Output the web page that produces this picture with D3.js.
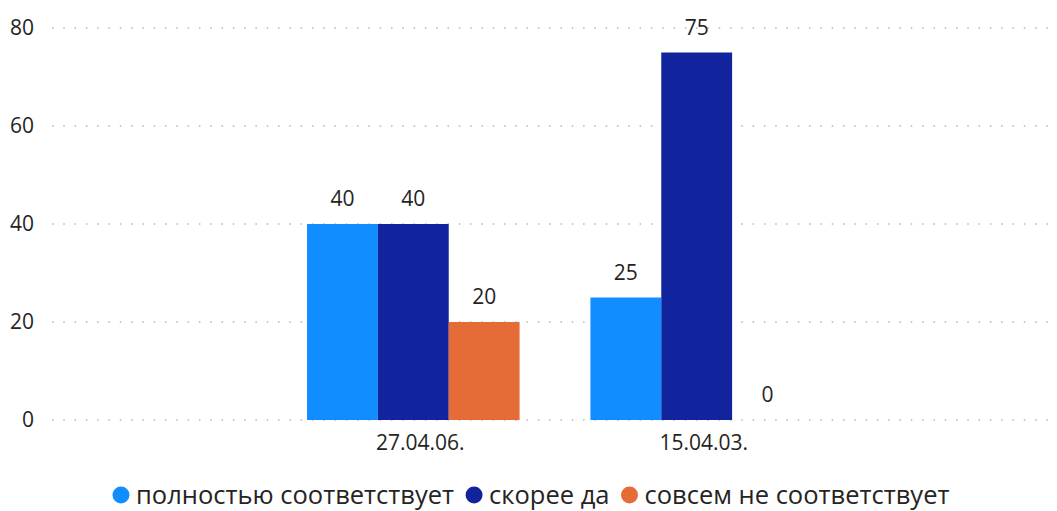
<!DOCTYPE html>
<html><head><meta charset="utf-8">
<script src="https://cdn.jsdelivr.net/npm/d3@7"></script>
<style>body{margin:0;background:#fff;}svg{display:block;font-family:"Open Sans",sans-serif;}</style>
</head><body>
<svg id="c" width="1057" height="511"></svg>
<script>
const categories = ["27.04.06.", "15.04.03."];
const seriesNames = ["полностью соответствует", "скорее да", "совсем не соответствует"];
const seriesColors = ["#118DFF", "#12239E", "#E66C37"];
const valuesFull = [40, 25];
const valuesRather = [40, 75];
const valuesNot = [20, 0];
const yTicks = [0, 20, 40, 60, 80];

const seriesValues = [valuesFull, valuesRather, valuesNot];
const svg = d3.select("#c");
const plotLeft = 52, plotRight = 1058, plotTop = 28, plotBottom = 420;
const FONT = "'Open Sans',sans-serif";

const y = d3.scaleLinear().domain([0, 80]).range([plotBottom, plotTop]);
const x0 = d3.scaleBand().domain(categories).range([plotLeft, plotRight]).paddingInner(0.25).paddingOuter(0.9);
const x1 = d3.scaleBand().domain(seriesNames).range([0, x0.bandwidth()]);

// gridlines
svg.append("g").selectAll("line").data(yTicks).join("line")
  .attr("x1", plotLeft).attr("x2", plotRight)
  .attr("y1", d => y(d)).attr("y2", d => y(d))
  .attr("stroke", "#c8c8c8").attr("stroke-width", 2)
  .attr("stroke-dasharray", "1.5,9.8");

// y axis labels
const yAxis = d3.axisLeft(y).tickValues(yTicks).tickSize(0).tickPadding(0);
const ya = svg.append("g").attr("transform", "translate(34,0)").call(yAxis);
ya.select(".domain").remove();
ya.selectAll("text").attr("font-size", 21).attr("fill", "#252423").attr("font-family", FONT);

// bars
const groups = svg.append("g").selectAll("g").data(categories).join("g")
  .attr("transform", d => `translate(${x0(d)},0)`);
groups.each(function(cat, ci) {
  const g = d3.select(this);
  seriesNames.forEach((s, si) => {
    const v = seriesValues[si][ci];
    g.append("rect")
      .attr("x", x1(s)).attr("width", x1.bandwidth())
      .attr("y", y(v)).attr("height", y(0) - y(v))
      .attr("fill", seriesColors[si]);
    g.append("text")
      .attr("x", x1(s) + x1.bandwidth() / 2)
      .attr("y", y(v) - 18)
      .attr("text-anchor", "middle")
      .attr("font-size", 21).attr("fill", "#252423")
      .text(v);
  });
});

// x axis labels
const xAxis = d3.axisBottom(x0).tickSize(0).tickPadding(0);
const xa = svg.append("g").attr("transform", `translate(7,${plotBottom + 30})`).call(xAxis);
xa.select(".domain").remove();
xa.selectAll("text").attr("font-size", 21).attr("fill", "#252423").attr("font-family", FONT).attr("dy", 0);

// legend
const legend = svg.append("g").attr("transform", "translate(0,495)");
let lx = 121;
seriesNames.forEach((s, i) => {
  legend.append("circle").attr("cx", lx).attr("cy", 0).attr("r", 8.5).attr("fill", seriesColors[i]);
  const t = legend.append("text").attr("x", lx + 15).attr("y", 8.5)
    .attr("font-size", 25.5).attr("fill", "#252423").text(s);
  lx += 15 + t.node().getComputedTextLength() + 20;
});
</script>
</body></html>
